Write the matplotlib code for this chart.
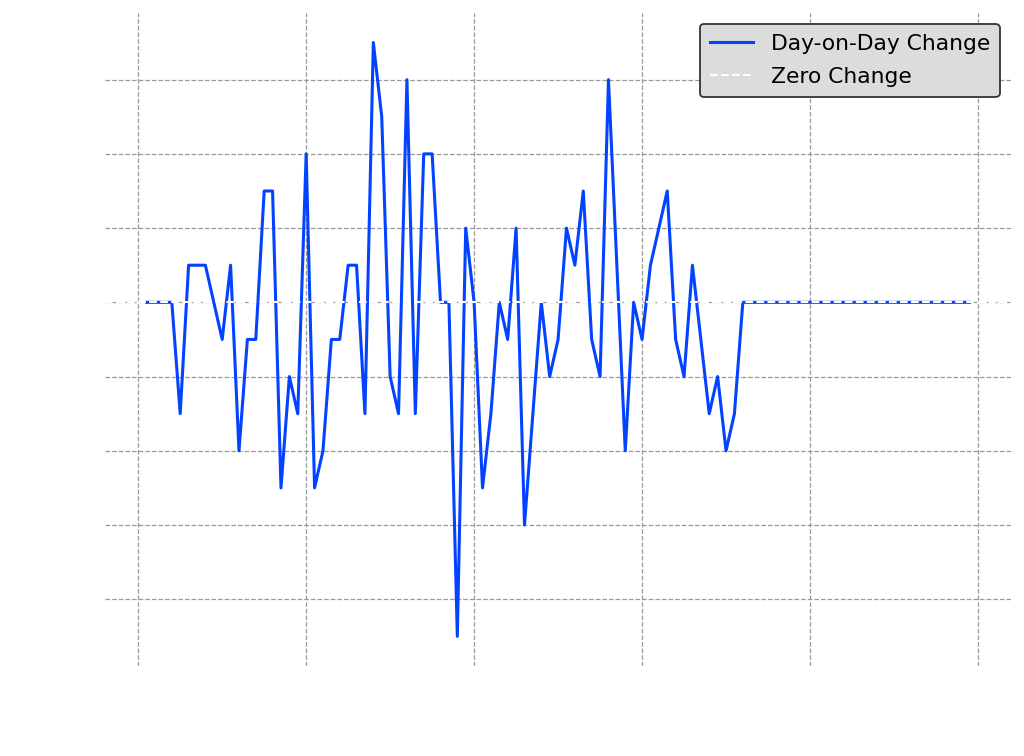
import matplotlib.pyplot as plt
import numpy as np
from matplotlib.ticker import MultipleLocator

days = np.arange(1, 100)
changes = [0, 0, 0, 0, -3, 1, 1, 1, 0, -1,
           1, -4, -1, -1, 3, 3, -5, -2, -3, 4,
           -5, -4, -1, -1, 1, 1, -3, 7, 5, -2,
           -3, 6, -3, 4, 4, 0, 0, -9, 2, 0,
           -5, -3, 0, -1, 2, -6, -3, 0, -2, -1,
           2, 1, 3, -1, -2, 6, 1, -4, 0, -1,
           1, 2, 3, -1, -2, 1, -1, -3, -2, -4,
           -3] + [0] * 28

fig = plt.figure(figsize=(10.24, 7.56), dpi=100)
ax = fig.add_axes([0.103, 0.119, 0.884, 0.864])

ax.plot(days, changes, color='#0343ff', linewidth=2.2, label='Day-on-Day Change', zorder=3)
# white zero line sits on top of the blue line and the grid
ax.axhline(0, color='white', linestyle='--', linewidth=1.5, label='Zero Change', zorder=4)

ax.xaxis.set_major_locator(MultipleLocator(20))
ax.yaxis.set_major_locator(MultipleLocator(2))
ax.grid(True, color='#999999', linestyle='--', linewidth=0.9, zorder=1)
ax.set_axisbelow(True)

for s in ax.spines.values():
    s.set_visible(False)
ax.tick_params(colors='white', length=0, labelsize=12)

leg = ax.legend(loc='upper right', fontsize=15.7, facecolor='#dcdcdc',
                edgecolor='#333333', framealpha=1, borderpad=0.45,
                labelspacing=0.62)
leg.set_zorder(5)
leg.get_frame().set_linewidth(1.3)

fig.savefig('out.png', dpi=100)
